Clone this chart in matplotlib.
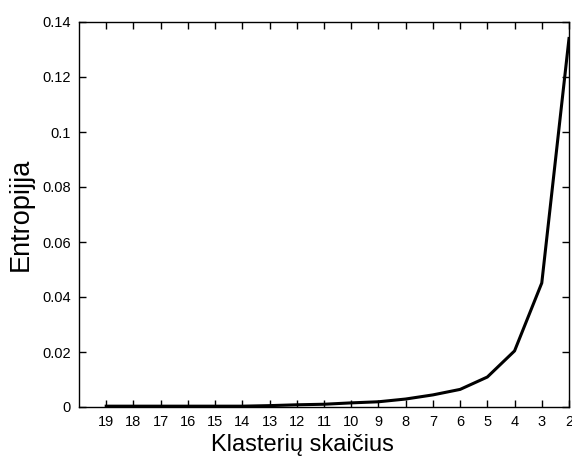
import numpy as np
import matplotlib
matplotlib.use('Agg')
import matplotlib.pyplot as plt

plt.rcParams['font.family'] = ['Liberation Sans', 'DejaVu Sans']

# entropy versus number of clusters
clusters = [19, 18, 17, 16, 15, 14, 13, 12, 11, 10, 9, 8, 7, 6, 5, 4, 3, 2]
entropy = [0.0003, 0.0003, 0.0003, 0.0003, 0.0003, 0.0003, 0.0005, 0.0008, 0.0010,
           0.0015, 0.0019, 0.0029, 0.0044, 0.0064, 0.0109, 0.0204, 0.0451, 0.134]
y_ticks = [0, 0.02, 0.04, 0.06, 0.08, 0.1, 0.12, 0.14]
y_labels = ['0', '0.02', '0.04', '0.06', '0.08', '0.1', '0.12', '0.14']

fig = plt.figure(figsize=(5.72, 4.58), dpi=100)
ax = fig.add_axes([79 / 572, 51 / 458, 490 / 572, 385 / 458])

ax.plot(clusters, entropy, color='black', linewidth=2.2)

ax.set_xlim(20, 2)
ax.set_ylim(0, 0.14)
ax.set_xticks(clusters)
ax.set_xticklabels([str(c) for c in clusters])
ax.set_yticks(y_ticks)
ax.set_yticklabels(y_labels)

ax.tick_params(direction='in', top=True, right=True, length=5, width=1,
               labelsize=10.5, pad=6)
for s in ax.spines.values():
    s.set_linewidth(1.0)

ax.set_xlabel('Klasterių skaičius', fontsize=17)
ax.set_ylabel('Entropijja', fontsize=19.5)
ax.xaxis.set_label_coords(0.455, -0.07)
ax.yaxis.set_label_coords(-0.092, 0.5)

fig.savefig('out.png', dpi=100)
